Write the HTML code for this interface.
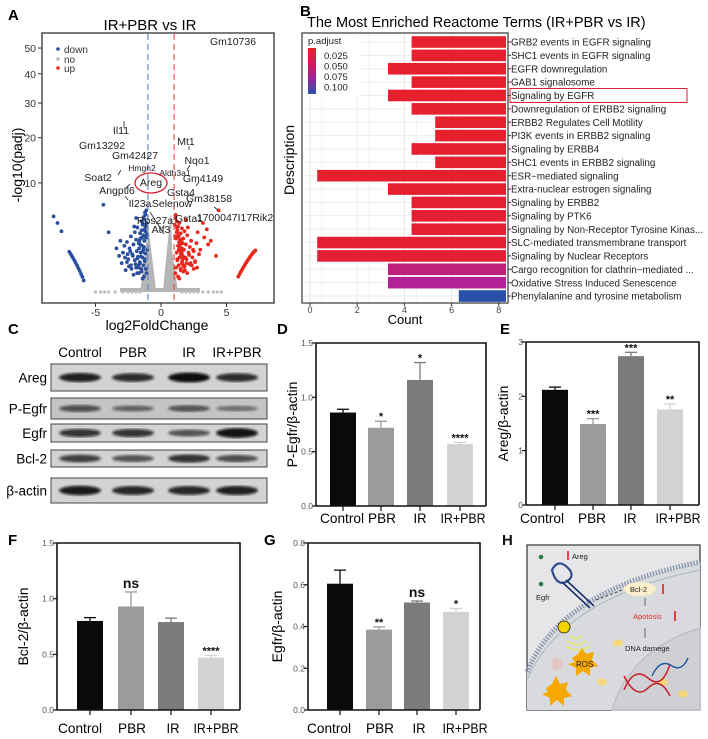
<!DOCTYPE html>
<html><head><meta charset="utf-8">
<style>
html,body{margin:0;padding:0;background:#fff;}
svg{display:block;font-family:"Liberation Sans",Arial,sans-serif;}
</style></head>
<body>
<svg id="fig" width="708" height="739" viewBox="0 0 708 739" xmlns="http://www.w3.org/2000/svg">
<defs>
<linearGradient id="padj" x1="0" y1="0" x2="0" y2="1">
<stop offset="0" stop-color="#e8202a"/><stop offset="0.35" stop-color="#d11c5a"/><stop offset="0.65" stop-color="#a0249a"/><stop offset="1" stop-color="#2a4fa8"/>
</linearGradient>
<filter id="blur1"><feGaussianBlur stdDeviation="1.4"/></filter>
</defs>
<g id="panelA"></g>
<g id="panelB"></g>
<g id="panelC"></g>
<g id="panelD"></g>
<g id="panelE"></g>
<g id="panelF"></g>
<g id="panelG"></g>
<g id="panelH">
  <rect x="527" y="545" width="173" height="165" fill="#e6e6e8" stroke="#333" stroke-width="1.2"/>
  <path d="M527,672 Q560,590 700,562 L700,710 L527,710 Z" fill="#d9dadd"/>
  <path d="M527,672 Q560,590 700,562" fill="none" stroke="#8e9bb0" stroke-width="5" stroke-dasharray="1.5 1.5"/>
  <path d="M527,680 Q562,598 700,570" fill="none" stroke="#aeb6c4" stroke-width="1"/>
  <path d="M612,710 Q630,650 700,628 L700,710 Z" fill="#cfd0d3" stroke="#b8bcc4" stroke-width="1.2"/>
  <circle cx="541" cy="557" r="2.3" fill="#2e7d4a"/>
  <circle cx="541" cy="584" r="2.3" fill="#2e7d4a"/>
  <path d="M552,570 q6,-12 16,-2 q8,8 -2,14 q-10,4 -14,-12 z" fill="none" stroke="#2c4a8c" stroke-width="2.2"/>
  <line x1="562" y1="582" x2="590" y2="608" stroke="#1e3070" stroke-width="1.6"/>
  <line x1="566" y1="580" x2="594" y2="606" stroke="#1e3070" stroke-width="1.6"/>
  <line x1="596" y1="600" x2="622" y2="590" stroke="#444" stroke-width="1" stroke-dasharray="3 2"/>
  <line x1="568" y1="551" x2="568" y2="560" stroke="#e01b22" stroke-width="1.6"/>
  <text x="572" y="559" font-size="7.5" fill="#222">Areg</text>
  <text x="536" y="600" font-size="7.5" fill="#222">Egfr</text>
  <ellipse cx="640" cy="589" rx="16" ry="7" fill="#fbeecb"/>
  <text x="630" y="592" font-size="7.5" fill="#222">Bcl-2</text>
  <line x1="663" y1="584" x2="663" y2="594" stroke="#e01b22" stroke-width="1.6"/>
  <line x1="645" y1="598" x2="645" y2="606" stroke="#444" stroke-width="0.8"/>
  <text x="633" y="619" font-size="7.5" fill="#e0302f">Apotosis</text>
  <line x1="675" y1="611" x2="675" y2="621" stroke="#e01b22" stroke-width="1.6"/>
  <line x1="645" y1="638" x2="645" y2="628" stroke="#444" stroke-width="0.8"/>
  <text x="625" y="651" font-size="7.5" fill="#222">DNA damege</text>
  <circle cx="564" cy="627" r="6" fill="#f2d200" stroke="#222" stroke-width="0.8"/>
  <path d="M570,636 q6,5 12,0 M568,641 q9,7 18,0 M566,646 q12,8 24,0" fill="none" stroke="#e9ea5a" stroke-width="1.3"/>
  <polygon points="572,658 578,654 582,648 586,654 594,652 592,660 598,666 590,668 590,676 583,671 576,676 576,668 568,664 575,662" fill="#f6a800"/>
  <text x="576" y="667" font-size="8" fill="#222">ROS</text>
  <polygon points="546,688 552,684 556,676 560,684 568,682 566,690 572,696 564,698 564,706 557,700 550,706 550,698 542,694 548,692" fill="#f6a800"/>
  <circle cx="557" cy="664" r="6" fill="#e4c6c0" filter="url(#blur1)"/>
  <ellipse cx="618" cy="643" rx="5" ry="3.5" fill="#f5d77a"/>
  <ellipse cx="602" cy="682" rx="5" ry="3.5" fill="#f5d77a"/>
  <ellipse cx="663" cy="682" rx="5" ry="3.5" fill="#f5d77a"/>
  <ellipse cx="683" cy="694" rx="5" ry="3.5" fill="#f5d77a"/>
  <path d="M624,690 q10,-24 24,-12 q14,12 22,-14 M624,676 q12,24 24,12 q12,-12 22,8" fill="none" stroke="#c8202a" stroke-width="1.5"/>
  <path d="M652,676 q8,-18 20,-10 q10,6 16,-8" fill="none" stroke="#1e5aa0" stroke-width="1.5"/>
  <text x="502" y="545" font-size="15" font-weight="bold" fill="#111">H</text>
</g>
</svg>
<script>
const NS="http://www.w3.org/2000/svg";
function mk(tag,attrs,parent,txt){const e=document.createElementNS(NS,tag);for(const k in attrs)e.setAttribute(k,attrs[k]);if(txt!==undefined)e.textContent=txt;parent.appendChild(e);return e;}

/* ===== Panel A data ===== */
const volcanoDownX=[-1.2,-1.3,-1.5,-1.4,-1.8,-2.0,-1.25,-1.6,-2.3,-1.35,-1.9,-2.6,-1.15,-1.7,-2.1,-1.45,-2.4,-1.3,-1.85,-2.9,-1.55,-2.2,-1.2,-1.75,-2.5,-1.4,-2.0,-1.25,-3.0,-1.6,-2.3,-1.35,-1.9,-1.15,-2.7,-1.5,-1.7,-2.1,-1.3,-3.1,-4.4,-8.2,-7.9,-7.6,-1.1,-1.2,-1.45,-1.65,-1.05,-1.8,-2.45,-3.4,-3.2,-2.8,-2.05,-1.9,-4.0,-1.35,-1.6,-1.25,-2.15,-1.5,-1.1,-1.7,-2.6,-1.4,-1.12,-1.22,-1.33,-1.18,-1.28,-1.42,-1.52,-1.62,-1.72,-1.82,-2.25,-2.35,-2.55,-1.08,-1.38,-1.48,-1.58,-1.68,-1.95,-2.75];
const volcanoDownY=[5.0,4.4,4.2,3.8,3.5,3.0,3.3,2.9,2.6,2.7,2.3,2.1,2.5,2.0,1.9,1.8,1.6,1.7,1.4,1.3,1.3,1.2,1.25,1.05,0.9,1.0,0.85,0.8,0.7,0.7,0.6,0.6,0.5,0.45,0.4,0.35,0.3,0.25,0.2,2.2,6.4,4.8,4.0,3.1,4.0,3.1,2.5,2.2,1.5,0.95,0.55,1.6,1.1,1.8,3.6,4.6,3.0,1.5,1.9,0.9,1.1,0.45,0.3,0.6,0.75,0.15,5.6,5.3,4.7,3.6,2.2,1.35,1.05,0.75,0.5,0.3,0.45,1.4,1.2,2.8,3.9,3.2,2.4,1.6,0.65,1.0];
const volcanoUpX=[1.1,1.2,1.4,1.3,1.6,1.8,1.25,1.5,2.0,1.35,1.7,2.3,1.15,1.55,1.9,1.45,2.2,1.3,1.75,2.5,1.5,2.1,1.2,1.65,2.4,1.4,1.95,1.25,2.6,1.6,2.2,1.35,1.8,1.15,2.5,1.5,1.7,2.0,1.3,2.8,3.2,3.5,4.4,2.7,3.0,1.05,1.2,1.45,1.65,1.85,2.35,3.3,2.9,3.6,2.05,1.9,1.35,1.6,1.25,2.15,1.5,1.1,1.7,2.6,1.4,3.8,4.2,1.12,1.22,1.32,1.42,1.52,1.62,1.72,1.82,2.25,2.45,1.08,1.38,1.48,1.58,1.68,1.95,2.75];
const volcanoUpY=[4.6,4.2,4.0,3.6,3.4,3.1,3.2,2.9,2.7,2.6,2.4,2.2,2.4,2.1,1.9,1.9,1.7,1.8,1.5,1.4,1.4,1.3,1.3,1.1,1.0,1.0,0.9,0.85,0.75,0.7,0.65,0.6,0.55,0.5,0.45,0.4,0.35,0.3,0.2,3.0,4.0,3.3,5.6,2.0,1.5,3.8,3.0,2.3,2.0,1.0,0.6,2.5,1.2,1.9,3.5,4.4,1.5,1.6,0.9,1.15,0.45,0.3,0.6,0.8,0.15,2.2,1.1,5.0,3.5,2.8,1.7,1.2,0.8,0.55,0.4,0.7,1.5,2.6,2.1,1.6,1.3,0.95,0.7,0.5];
const diagDownX=[-7.0,-6.9,-6.8,-6.7,-6.6,-6.5,-6.4,-6.3,-6.2,-6.1,-6.0,-5.9];
const diagDownY=[1.36,1.22,1.08,0.95,0.82,0.7,0.58,0.47,0.37,0.27,0.19,0.11];
const diagUpX=[5.9,6.0,6.1,6.2,6.3,6.4,6.5,6.6,6.7,6.8,6.9,7.0,7.1,7.2];
const diagUpY=[0.2,0.27,0.35,0.43,0.52,0.62,0.72,0.82,0.93,1.04,1.15,1.26,1.36,1.45];
const baseNoX=[-5.0,-4.6,-4.3,-4.0,-3.5,-2.9,-2.5,-2.2,-1.9,-1.6,1.6,1.9,2.2,2.5,2.8,3.2,3.6,4.0,4.3,4.6];
const yTicksA=[10,20,30,40,50];
const xTicksA=[-5,0,5];
const geneLabels=["Gm10736","Il11","Gm13292","Gm42427","Soat2","Hmgn2","Areg","Angptl6","Il23a","Selenow","Rps27a","Atf3","Mt1","Nqo1","Aldh3a1","Gm4149","Gsta4","Gm38158","Gsta1","1700047I17Rik2"];
const geneX=[233,121,102,135,98,142,151,117,140,172,155,161,186,197,175,203,181,209,189,235];
const geneY=[45,134,149,159,181,171,186,194,207,207,224,233,145,164,176,182,196,202,222,221];
const geneSize=[10.5,10.5,10.5,10.5,10.5,8.5,10.5,10.5,10.5,10.5,10.5,10.5,10.5,10.5,8.5,10.5,10.5,10.5,10.5,10.5];

(function(){
const g=document.getElementById('panelA');
const xA=v=>161+13.1*v, yA=v=>292-34.5*Math.sqrt(v);
const t=mk('text',{x:8,y:20,'font-size':15,'font-weight':'bold'},g,'A');


const ti=mk('text',{x:150,y:30,'font-size':15,'text-anchor':'middle'},g,'IR+PBR vs IR');


mk('rect',{x:42,y:33,width:232,height:270,fill:'#fff',stroke:'#333','stroke-width':1.3},g);
mk('polygon',{points:'147,212 150,240 156,290 140,292 146,250',fill:'#b5b5b5'},g);
mk('polygon',{points:'171,212 168,240 163,290 178,292 172,250',fill:'#b5b5b5'},g);
mk('rect',{x:120,y:288,width:80,height:4,fill:'#b5b5b5'},g);
baseNoX.forEach(v=>{const c=mk('circle',{cx:xA(v),cy:292,r:1.6,fill:'#bdbdbd'},g);

});
const dx=volcanoDownX.concat(diagDownX), dy=volcanoDownY.concat(diagDownY);
dx.forEach((v,i)=>{const c=mk('circle',{cx:xA(v),cy:yA(dy[i]),r:1.9,fill:'#2a4f9e'},g);

});
const ux=volcanoUpX.concat(diagUpX), uy=volcanoUpY.concat(diagUpY);
ux.forEach((v,i)=>{const c=mk('circle',{cx:xA(v),cy:yA(uy[i]),r:1.9,fill:'#e8281e'},g);

});
mk('line',{x1:xA(-1),y1:34,x2:xA(-1),y2:302,stroke:'#5b7fc0','stroke-dasharray':'6 4','stroke-width':1.1},g);
mk('line',{x1:xA(1),y1:34,x2:xA(1),y2:302,stroke:'#e04a3c','stroke-dasharray':'6 4','stroke-width':1.1},g);
yTicksA.forEach(v=>{mk('line',{x1:38,x2:42,y1:yA(v),y2:yA(v),stroke:'#333'},g);
const l=mk('text',{x:36,y:yA(v)+4,'font-size':10.5,'text-anchor':'end',fill:'#333'},g,String(v));

});
xTicksA.forEach(v=>{mk('line',{x1:xA(v),x2:xA(v),y1:303,y2:307,stroke:'#333'},g);
const l=mk('text',{x:xA(v),y:316,'font-size':10.5,'text-anchor':'middle',fill:'#333'},g,String(v));

});
const xl=mk('text',{x:157,y:330,'font-size':14,'text-anchor':'middle'},g,'log2FoldChange');


const yl=mk('text',{x:0,y:0,'font-size':14,'text-anchor':'middle',transform:'translate(22,165) rotate(-90)'},g,'-log10(padj)');


[['down','#2a4f9e',49],['no','#bdbdbd',59],['up','#e8281e',68]].forEach(a=>{
mk('circle',{cx:58,cy:a[2],r:1.8,fill:a[1]},g);
const l=mk('text',{x:64,y:a[2]+4,'font-size':10,fill:'#333'},g,a[0]);

});
geneLabels.forEach((s,i)=>{const l=mk('text',{x:geneX[i],y:geneY[i],'font-size':geneSize[i],'text-anchor':'middle',fill:'#222'},g,s);

});
mk('ellipse',{cx:151,cy:183,rx:16,ry:10,fill:'none',stroke:'#d32030','stroke-width':1.3},g);
[[124,128,124,121],[118,175,121,170],[126,188,130,184],[128,200,125,196],[150,212,164,234],[189,150,189,146],[187,170,190,165],[196,186,199,182],[218,210,214,207]].forEach(p=>mk('line',{x1:p[0],y1:p[1],x2:p[2],y2:p[3],stroke:'#222','stroke-width':0.8},g));
})();

/* ===== Panel B data ===== */
const termNames=["GRB2 events in EGFR signaling","SHC1 events in EGFR signaling","EGFR downregulation","GAB1 signalosome","Signaling by EGFR","Downregulation of ERBB2 signaling","ERBB2 Regulates Cell Motility","PI3K events in ERBB2 signaling","Signaling by ERBB4","SHC1 events in ERBB2 signaling","ESR\u2212mediated signaling","Extra-nuclear estrogen signaling","Signaling by ERBB2","Signaling by PTK6","Signaling by Non-Receptor Tyrosine Kinas...","SLC-mediated transmembrane transport","Signaling by Nuclear Receptors","Cargo recognition for clathrin\u2212mediated ...","Oxidative Stress Induced Senescence","Phenylalanine and tyrosine metabolism"];
const termCounts=[4,4,5,4,5,4,3,3,4,3,8,5,4,4,4,8,8,5,5,2];
const termPadj=[0.004,0.004,0.004,0.004,0.004,0.005,0.005,0.005,0.006,0.006,0.006,0.008,0.012,0.012,0.012,0.014,0.014,0.06,0.07,0.10];
const countTicks=[0,2,4,6,8];
const padjTicks=[0.025,0.050,0.075,0.100];

(function(){
const g=document.getElementById('panelB');
const rowY=i=>42+i*13.37, barLen=v=>23.6*v;
const colr=p=>{const s=[[0,[232,32,42]],[0.02,[226,30,56]],[0.05,[205,30,100]],[0.075,[170,36,160]],[0.1,[42,79,168]]];
for(let i=1;i<s.length;i++){if(p<=s[i][0]){const f=(p-s[i-1][0])/(s[i][0]-s[i-1][0]);return 'rgb('+s[i-1][1].map((c,k)=>Math.round(c+f*(s[i][1][k]-c))).join(',')+')';}}return 'rgb(42,79,168)';};
const t=mk('text',{x:300,y:16,'font-size':15,'font-weight':'bold'},g,'B');


const ti=mk('text',{x:307,y:27,'font-size':14.5},g,'The Most Enriched Reactome Terms (IR+PBR vs IR)');


mk('rect',{x:302,y:33,width:206,height:270,fill:'#fff'},g);
countTicks.forEach((v,i)=>{const x=310+23.6*v;mk('line',{x1:x,x2:x,y1:33,y2:303,stroke:'#e6e6e6'},g);
if(i<4)mk('line',{x1:x+11.8,x2:x+11.8,y1:33,y2:303,stroke:'#f1f1f1'},g);});
termCounts.forEach((v,i)=>{mk('line',{x1:302,x2:508,y1:rowY(i),y2:rowY(i),stroke:'#ececec'},g);
const b=mk('rect',{x:506-barLen(v),y:rowY(i)-5.8,width:barLen(v),height:11.6,fill:colr(termPadj[i])},g);


mk('line',{x1:508,x2:511,y1:rowY(i),y2:rowY(i),stroke:'#333'},g);
const l=mk('text',{x:511,y:rowY(i)+3.6,'font-size':9.8,fill:'#222'},g,termNames[i]);

});
mk('rect',{x:302,y:33,width:206,height:270,fill:'none',stroke:'#444','stroke-width':1.3},g);
mk('rect',{x:510,y:rowY(4)-7,width:177,height:14,fill:'none',stroke:'#d32030','stroke-width':1},g);
countTicks.forEach(v=>{const x=310+23.6*v;mk('line',{x1:x,x2:x,y1:303,y2:306,stroke:'#333'},g);
const l=mk('text',{x:x,y:313,'font-size':9,'text-anchor':'middle',fill:'#444'},g,String(v));

});
const xl=mk('text',{x:405,y:324,'font-size':13,'text-anchor':'middle'},g,'Count');


const yl=mk('text',{x:0,y:0,'font-size':14,'text-anchor':'middle',transform:'translate(294,160) rotate(-90)'},g,'Description');


mk('rect',{x:303,y:35,width:58,height:62,fill:'#fff',opacity:0.9},g);
const lt=mk('text',{x:308,y:44,'font-size':9.5,fill:'#222'},g,'p.adjust');


mk('rect',{x:308,y:48,width:8,height:46,fill:'url(#padj)'},g);
padjTicks.forEach((v,i)=>{const l=mk('text',{x:324,y:59+i*10.5,'font-size':9.5,fill:'#222'},g,v.toFixed(3));

});
})();

/* ===== Panel C ===== */
const blotLanes=["Control","PBR","IR","IR+PBR"];
const blotRows=["Areg","P-Egfr","Egfr","Bcl-2","\u03b2-actin"];
const blotIntensity=[[0.85,0.75,1.0,0.75],[0.45,0.3,0.4,0.2],[0.7,0.7,0.45,0.95],[0.6,0.45,0.7,0.5],[0.9,0.8,0.8,0.85]];
(function(){
const g=document.getElementById('panelC');
const rowTop=[364,398,424,450,478], rowH=[27,21,18,17,25], laneX=[80,133,189,237];
const t=mk('text',{x:8,y:334,'font-size':15,'font-weight':'bold'},g,'C');


blotLanes.forEach((s,i)=>{const l=mk('text',{x:laneX[i],y:357,'font-size':13.5,'text-anchor':'middle'},g,s);

});
blotRows.forEach((s,r)=>{
const box=mk('rect',{x:51,y:rowTop[r],width:216,height:rowH[r],fill:r==1?'#c4c4c4':'#d3d3d3',stroke:'#444','stroke-width':1},g);


blotIntensity[r].forEach((v,i)=>{const b=mk('ellipse',{cx:laneX[i],cy:rowTop[r]+rowH[r]/2,rx:21,ry:2.2+2.8*v,fill:'#0a0a0a',opacity:0.35+0.65*v,filter:'url(#blur1)'},g);

});
const l=mk('text',{x:47,y:rowTop[r]+rowH[r]/2+5,'font-size':13.5,'text-anchor':'end'},g,s);

});
})();

/* ===== Bar chart data (D-G) ===== */
const groups=["Control","PBR","IR","IR+PBR"];
const pegfrValues=[0.86,0.72,1.16,0.57];
const pegfrErrors=[0.03,0.06,0.16,0.015];
const pegfrStars=["","*","*","****"];
const pegfrTicks=["0.0","0.5","1.0","1.5"];
const aregValues=[2.12,1.49,2.74,1.76];
const aregErrors=[0.05,0.1,0.07,0.1];
const aregStars=["","***","***","**"];
const aregTicks=["0","1","2","3"];
const bcl2Values=[0.80,0.93,0.79,0.47];
const bcl2Errors=[0.03,0.13,0.035,0.02];
const bcl2Stars=["","ns","","****"];
const bcl2Ticks=["0.0","0.5","1.0","1.5"];
const egfrValues=[0.605,0.385,0.515,0.47];
const egfrErrors=[0.065,0.013,0.007,0.016];
const egfrStars=["","**","ns","*"];
const egfrTicks=["0.0","0.2","0.4","0.6","0.8"];
const barColors=["#0a0a0a","#9b9b9d","#7b7b7d","#d3d3d5"];
const groupLabelWidths=[44,28,13,45];

function barChart(id,cfg){
const g=document.getElementById(id);
const ymax=parseFloat(cfg.ticks[cfg.ticks.length-1]);
const yS=v=>cfg.bottom-(cfg.bottom-cfg.top)*v/ymax;
const t=mk('text',{x:cfg.lx,y:cfg.ly,'font-size':15,'font-weight':'bold'},g,cfg.letter);


const yl=mk('text',{x:0,y:0,'font-size':14,'text-anchor':'middle',transform:'translate('+cfg.ytx+','+((cfg.top+cfg.bottom)/2)+') rotate(-90)'},g,cfg.ytitle);


cfg.values.forEach((v,i)=>{
const x0=cfg.barX[i];
const b=mk('rect',{x:x0,y:yS(v),width:cfg.bw,height:cfg.bottom-yS(v),fill:barColors[i]},g);


const cx=x0+cfg.bw/2, ye=yS(v+cfg.errors[i]);
mk('line',{x1:cx,x2:cx,y1:yS(v),y2:ye,stroke:barColors[i],'stroke-width':1.3},g);
mk('line',{x1:cx-6,x2:cx+6,y1:ye,y2:ye,stroke:barColors[i],'stroke-width':1.3},g);
if(cfg.stars[i]){const isNs=cfg.stars[i]==='ns';
const s=mk('text',{x:cx,y:ye-(isNs?4:1),'font-size':isNs?14:11,'font-weight':'bold','text-anchor':'middle',fill:'#111'},g,cfg.stars[i]);

}
mk('line',{x1:cx,x2:cx,y1:cfg.bottom,y2:cfg.bottom+5,stroke:'#111','stroke-width':1.2},g);
const l=mk('text',{x:cfg.labX[i],y:cfg.labY,'font-size':14,'text-anchor':'middle',textLength:groupLabelWidths[i],lengthAdjust:'spacingAndGlyphs'},g,groups[i]);

});
mk('path',{d:'M'+cfg.axis+','+cfg.top+' L'+cfg.right+','+cfg.top+' L'+cfg.right+','+cfg.bottom,fill:'none',stroke:'#111','stroke-width':1.6},g);
mk('line',{x1:cfg.axis,x2:cfg.axis,y1:cfg.top,y2:cfg.bottom,stroke:'#111','stroke-width':1.6},g);
mk('line',{x1:cfg.axis,x2:cfg.right,y1:cfg.bottom,y2:cfg.bottom,stroke:'#111','stroke-width':1.6},g);
cfg.ticks.forEach(s=>{const y=yS(parseFloat(s));
mk('line',{x1:cfg.axis-4,x2:cfg.axis,y1:y,y2:y,stroke:'#111','stroke-width':1.2},g);
const l=mk('text',{x:cfg.axis-3,y:y+3,'font-size':8.5,'text-anchor':'end',fill:'#555'},g,s);

});
}
barChart('panelD',{letter:'D',lx:277,ly:334,values:pegfrValues,errors:pegfrErrors,stars:pegfrStars,ticks:pegfrTicks,axis:316,right:486,top:343,bottom:506,bw:26,barX:[330,368,407,447],labX:[342,382,420,463],labY:523,ytx:297,ytitle:'P-Egfr/\u03b2-actin'});
barChart('panelE',{letter:'E',lx:500,ly:334,values:aregValues,errors:aregErrors,stars:aregStars,ticks:aregTicks,axis:526,right:699,top:342,bottom:505,bw:26,barX:[542,580,618,657],labX:[542,592,630,678],labY:523,ytx:508,ytitle:'Areg/\u03b2-actin'});
barChart('panelF',{letter:'F',lx:8,ly:545,values:bcl2Values,errors:bcl2Errors,stars:bcl2Stars,ticks:bcl2Ticks,axis:57,right:240,top:543,bottom:710,bw:26,barX:[77,118,158,198],labX:[80,132,173,216],labY:733,ytx:28,ytitle:'Bcl-2/\u03b2-actin'});
barChart('panelG',{letter:'G',lx:264,ly:545,values:egfrValues,errors:egfrErrors,stars:egfrStars,ticks:egfrTicks,axis:308,right:480,top:543,bottom:710,bw:26,barX:[327,366,404,443],labX:[329,380,419,465],labY:733,ytx:282,ytitle:'Egfr/\u03b2-actin'});
</script>
</body></html>
